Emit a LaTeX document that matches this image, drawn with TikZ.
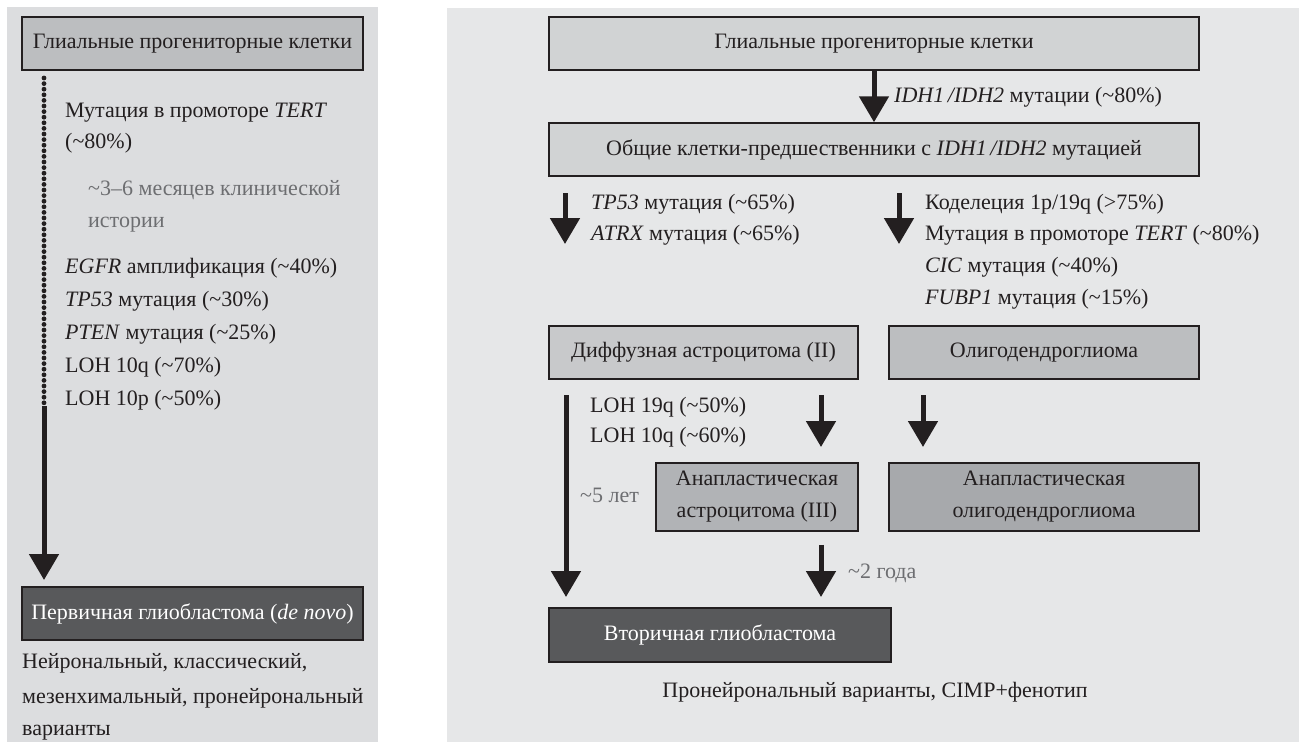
\documentclass[tikz,border=0pt]{standalone}
\usepackage{fontspec}
\setmainfont{Liberation Serif}
\usetikzlibrary{arrows.meta}
\definecolor{ink}{HTML}{231F20}
\definecolor{graytxt}{HTML}{6D6E71}
\definecolor{bgL}{HTML}{DCDDDF}
\definecolor{bgR}{HTML}{E6E7E8}
\definecolor{boxA}{HTML}{D1D3D4}
\definecolor{boxB}{HTML}{C8C9CB}
\definecolor{boxC}{HTML}{BCBEC0}
\definecolor{boxD}{HTML}{B1B3B6}
\definecolor{boxE}{HTML}{A7A9AC}
\definecolor{boxDark}{HTML}{58595B}
\newcommand\myfs{\fontsize{22}{32}\selectfont}
\newcommand\tld{\textasciitilde}
\begin{document}
\begin{tikzpicture}[x=1pt,y=-1pt,
  box/.style={draw=ink, line width=1.5pt, inner sep=0pt, align=center, text=ink, font=\myfs},
  darkbox/.style={box, fill=boxDark, text=white},
  txt/.style={anchor=west, inner sep=0pt, text=ink, font=\myfs, text height=15pt, text depth=5pt},
  gtxt/.style={txt, text=graytxt},
  bigarrow/.style={line width=5pt, draw=ink, -{Triangle[width=29pt,length=26pt]}},
]
\path[use as bounding box] (0,0) rectangle (1299,742);
% panels
\fill[bgL] (7,7) rectangle (378,742);
\fill[bgR] (447,8) rectangle (1299,742);

% ---------- left panel ----------
\node[box, fill=boxC, minimum width=341pt, minimum height=53pt] (L1) at (192.5,43.5) {Глиальные прогениторные клетки};
\node[darkbox, minimum width=341pt, minimum height=53pt] (L2) at (192.5,613.5) {Первичная глиобластома (\textit{de novo})};

\coordinate (ldotA) at (44,78);
\coordinate (ldotB) at (44,406);
\coordinate (ldotE) at (44,580);
\draw[ink, line width=4.8pt, line cap=round, dash pattern=on 0pt off 5.6pt] (ldotA) -- (ldotB);
\draw[bigarrow] (ldotB) -- (ldotE);

\node[txt] (lt1) at (65,112) {Мутация в промоторе \textit{TERT}};
\node[txt] (lt2) at (65,143) {(\tld80\%)};
\node[gtxt] (lt3) at (88,190) {\tld3--6 месяцев клинической};
\node[gtxt] (lt4) at (88,222) {истории};
\node[txt] (lt5) at (65,268) {\textit{EGFR} амплификация (\tld40\%)};
\node[txt] (lt6) at (65,301) {\textit{TP53} мутация (\tld30\%)};
\node[txt] (lt7) at (65,334) {\textit{PTEN} мутация (\tld25\%)};
\node[txt] (lt8) at (65,367) {LOH 10q (\tld70\%)};
\node[txt] (lt9) at (65,400) {LOH 10p (\tld50\%)};

\node[txt] (lb1) at (22,663) {Нейрональный, классический,};
\node[txt] (lb2) at (22,698) {мезенхимальный, пронейрональный};
\node[txt] (lb3) at (22,730) {варианты};

% ---------- right panel ----------
\node[box, fill=boxA, minimum width=650pt, minimum height=53pt] (R1) at (874,43.5) {Глиальные прогениторные клетки};
\node[box, fill=boxA, minimum width=650pt, minimum height=53pt] (R2) at (874,149.5) {Общие клетки-предшественники с \textit{IDH1\,/IDH2} мутацией};
\node[box, fill=boxB, minimum width=309pt, minimum height=53pt] (R3) at (703.5,352.5) {Диффузная астроцитома (II)};
\node[box, fill=boxC, minimum width=310pt, minimum height=53pt] (R4) at (1044,352.5) {Олигодендроглиома};
\node[box, fill=boxD, minimum width=202pt, minimum height=68pt] (R5) at (757,497) {Анапластическая\\астроцитома (III)};
\node[box, fill=boxE, minimum width=310pt, minimum height=68pt] (R6) at (1044,497) {Анапластическая\\олигодендроглиома};
\node[darkbox, minimum width=342pt, minimum height=54pt] (R7) at (720,635) {Вторичная глиобластома};

% arrows
\draw[bigarrow] (R1.south) -- (R2.north);

\coordinate (aLs) at (565,193);
\coordinate (aLe) at (565,244);
\coordinate (aRs) at (899,193);
\coordinate (aRe) at (899,244);
\draw[bigarrow] (aLs) -- (aLe);
\draw[bigarrow] (aRs) -- (aRe);

\coordinate (longS) at (566,395);
\draw[bigarrow] (longS) -- (longS |- 0,597);
\coordinate (midS) at (821,395);
\draw[bigarrow] (midS) -- (midS |- 0,447);
\coordinate (rgtS) at (923,395);
\draw[bigarrow] (rgtS) -- (rgtS |- 0,447);
\draw[bigarrow] (R5.south -| midS) ++(0,13) coordinate (botS) -- (botS |- 0,597);

% labels
\node[txt] (idh) at (894,97) {\textit{IDH1\,/IDH2} мутации (\tld80\%)};
\node[txt] (m1) at (591,204) {\textit{TP53} мутация (\tld65\%)};
\node[txt] (m2) at (591,235) {\textit{ATRX} мутация (\tld65\%)};
\node[txt] (m3) at (925,204) {Коделеция 1p/19q (>75\%)};
\node[txt] (m4) at (925,235) {Мутация в промоторе \textit{TERT} (\tld80\%)};
\node[txt] (m5) at (925,267) {\textit{CIC} мутация (\tld40\%)};
\node[txt] (m6) at (925,299) {\textit{FUBP1} мутация (\tld15\%)};
\node[txt] (l19) at (590,407) {LOH 19q (\tld50\%)};
\node[txt] (l10) at (590,437) {LOH 10q (\tld60\%)};
\node[gtxt] (five) at (580,497) {\tld5 лет};
\node[gtxt] (two) at (848,573) {\tld2 года};
\node[txt, anchor=center] (cap) at (875,692) {Пронейрональный варианты, CIMP+фенотип};
\end{tikzpicture}
\end{document}
